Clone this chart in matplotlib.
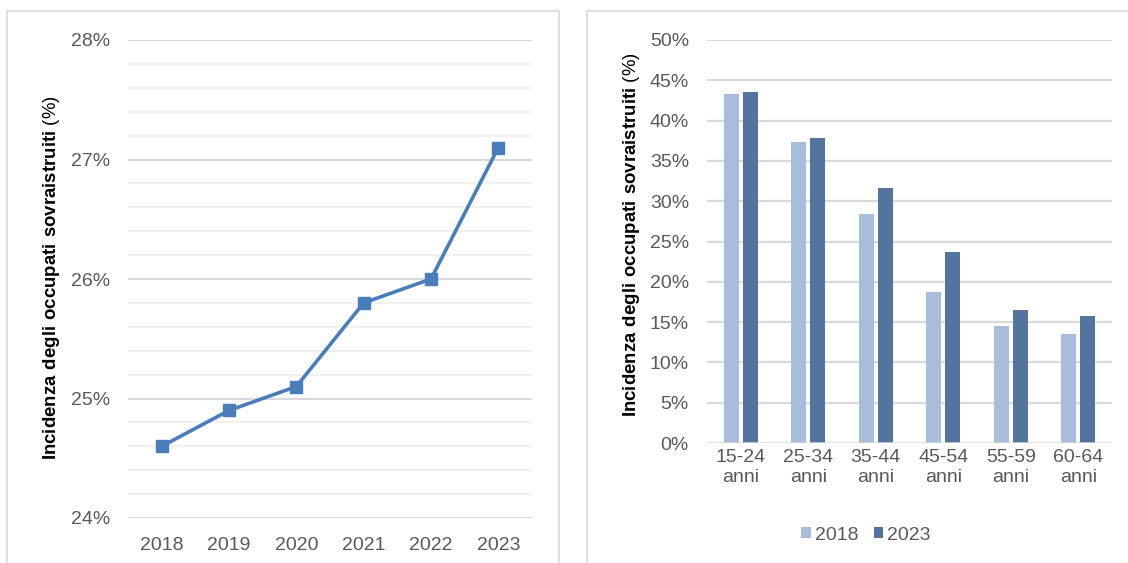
import matplotlib
matplotlib.use("Agg")
import matplotlib.pyplot as plt
from matplotlib.patches import Rectangle
import numpy as np

plt.rcParams['font.family'] = ['Liberation Sans', 'DejaVu Sans']
plt.rcParams['mathtext.fontset'] = 'custom'
plt.rcParams['mathtext.bf'] = 'Liberation Sans:bold'
plt.rcParams['mathtext.rm'] = 'Liberation Sans'

# ---- data ----
years = ["2018", "2019", "2020", "2021", "2022", "2023"]
incidenza = [24.6, 24.9, 25.1, 25.8, 26.0, 27.1]

age_groups = ["15-24\nanni", "25-34\nanni", "35-44\nanni", "45-54\nanni", "55-59\nanni", "60-64\nanni"]
val_2018 = [43.3, 37.4, 28.4, 18.7, 14.5, 13.5]
val_2023 = [43.6, 37.8, 31.6, 23.7, 16.5, 15.7]
series_names = ["2018", "2023"]

line_color = "#4A7EBB"
c2018 = "#A7BDDB"
c2023 = "#52749F"
tick_color = "#595959"
grid_major = "#D9D9D9"
grid_minor = "#F0F0F0"

W, H = 1128, 563
fig = plt.figure(figsize=(W / 100, H / 100), dpi=100)

def fx(px):
    return px / W

def fy(py):
    return 1 - py / H

# panel borders
fig.patches.append(Rectangle((fx(7), fy(570)), fx(559) - fx(7), fy(11) - fy(570),
                             transform=fig.transFigure, fill=False, edgecolor="#D9D9D9", lw=1.2))
fig.patches.append(Rectangle((fx(587), fy(570)), fx(1140) - fx(587), fy(11) - fy(570),
                             transform=fig.transFigure, fill=False, edgecolor="#D9D9D9", lw=1.2))

ylabel = r"$\bf{Incidenza\ degli\ occupati\ sovraistruiti}$ (%)"
TICK_FS = 14
LABEL_FS = 13.4

# ---- left chart ----
ax1 = fig.add_axes([fx(128), fy(518), fx(532) - fx(128), fy(40) - fy(518)])
x = np.arange(len(years))
ax1.set_xlim(-0.5, len(years) - 0.5)
ax1.set_ylim(24, 28)
for v in np.arange(24, 28.01, 0.2):
    is_major = abs(v - round(v)) < 1e-6
    ax1.axhline(v, color=grid_major if is_major else grid_minor,
                lw=1.5 if is_major else 1.3, zorder=0)
ax1.plot(x, incidenza, color=line_color, lw=2.6, marker="s", markersize=8.8,
         markerfacecolor=line_color, markeredgecolor=line_color, zorder=3)
ax1.set_xticks(x)
ax1.set_xticklabels(years)
ax1.set_yticks([24, 25, 26, 27, 28])
ax1.set_yticklabels([f"{v}%" for v in [24, 25, 26, 27, 28]])
ax1.tick_params(axis="both", length=0, labelsize=TICK_FS, labelcolor=tick_color)
ax1.tick_params(axis="x", pad=13.5)
ax1.tick_params(axis="y", pad=13)
for s in ax1.spines.values():
    s.set_visible(False)
ax1.set_ylabel(ylabel, fontsize=LABEL_FS, color="#000000")
ax1.yaxis.set_label_coords((62 - 128) / 404, (518 - 278) / 478)

# ---- right chart ----
ax2 = fig.add_axes([fx(707), fy(443), fx(1112) - fx(707), fy(40) - fy(443)])
xb = np.arange(len(age_groups))
bw = 0.22
off = 0.14
ax2.set_xlim(-0.5, len(age_groups) - 0.5)
ax2.set_ylim(0, 50)
for v in range(5, 51, 5):
    ax2.axhline(v, color=grid_major, lw=1.6, zorder=0)
ax2.axhline(0, color=grid_major, lw=1.8, zorder=4)
ax2.bar(xb - off, val_2018, width=bw, color=c2018, label=series_names[0], zorder=2)
ax2.bar(xb + off, val_2023, width=bw, color=c2023, label=series_names[1], zorder=2)
ax2.set_xticks(xb)
ax2.set_xticklabels(age_groups, linespacing=1.3)
ax2.set_yticks(range(0, 51, 5))
ax2.set_yticklabels([f"{v}%" for v in range(0, 51, 5)])
ax2.tick_params(axis="both", length=0, labelsize=TICK_FS, labelcolor=tick_color)
ax2.tick_params(axis="x", pad=4)
ax2.tick_params(axis="y", pad=13)
for s in ax2.spines.values():
    s.set_visible(False)
ax2.set_ylabel(ylabel, fontsize=LABEL_FS, color="#000000")
ax2.yaxis.set_label_coords((642 - 707) / 405, (443 - 235) / 403)
leg = ax2.legend(loc="center", bbox_to_anchor=(fx(866), fy(535)),
                 bbox_transform=fig.transFigure, ncol=2, frameon=False,
                 fontsize=TICK_FS, handlelength=0.5, handleheight=0.5,
                 handletextpad=0.2, columnspacing=0.8, borderpad=0)
for t in leg.get_texts():
    t.set_color(tick_color)

fig.savefig("out.png", dpi=100)
